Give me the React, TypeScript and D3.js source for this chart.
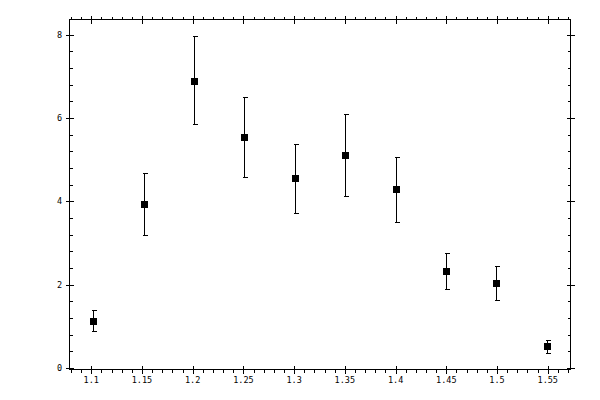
import React from 'react';
import * as d3 from 'd3';

// values
const xValues = [1.1016, 1.1518, 1.2011, 1.2504, 1.3007, 1.3499, 1.4002, 1.4493, 1.4987, 1.549];
const yValues = [1.134, 3.933, 6.9, 5.543, 4.555, 5.105, 4.292, 2.33, 2.043, 0.536];
const errHigh = [1.397, 4.675, 7.976, 6.517, 5.368, 6.086, 5.072, 2.751, 2.45, 0.679];
const errLow = [0.895, 3.199, 5.847, 4.586, 3.718, 4.124, 3.502, 1.9, 1.636, 0.368];

const xMajor = [1.1, 1.15, 1.2, 1.25, 1.3, 1.35, 1.4, 1.45, 1.5, 1.55];
const xLabels = ['1.1', '1.15', '1.2', '1.25', '1.3', '1.35', '1.4', '1.45', '1.5', '1.55'];
const yMajor = [0, 2, 4, 6, 8];
const yLabels = ['0', '2', '4', '6', '8'];

const W = 600;
const H = 400;
const left = 69.5, right = 570.5, top = 19.5, bottom = 369.5;

const App: React.FC = () => {
  const x = d3.scaleLinear().domain([1.0786, 1.5724]).range([left, right]);
  const y = d3.scaleLinear().domain([-0.036, 8.366]).range([bottom, top]);
  const px = (v: number) => Math.round(x(v)) + 0.5;
  const py = (v: number) => Math.round(y(v)) + 0.5;

  const xMinor = d3.range(108, 158).map(d => d / 100).filter(v => x(v) > left && x(v) < right);
  const yMinor = d3.range(0, 21).map(d => d * 0.4);

  const font = '"DejaVu Sans Mono", monospace';

  return (
    <svg width={W} height={H} style={{ position: 'absolute', left: 0, top: 0, background: '#fff' }}>
      <g stroke="#000" strokeWidth={1} shapeRendering="crispEdges" fill="none">
        <rect x={left} y={top} width={right - left} height={bottom - top} />
        {xMinor.map((v, i) => (
          <g key={'xm' + i}>
            <line x1={px(v)} x2={px(v)} y1={top} y2={top - 3} />
            <line x1={px(v)} x2={px(v)} y1={bottom} y2={bottom + 3} />
          </g>
        ))}
        {xMajor.map((v, i) => (
          <g key={'xM' + i}>
            <line x1={px(v)} x2={px(v)} y1={top - 4} y2={top + 4} />
            <line x1={px(v)} x2={px(v)} y1={bottom - 4} y2={bottom + 4} />
          </g>
        ))}
        {yMinor.map((v, i) => (
          <g key={'ym' + i}>
            <line x1={left} x2={left + 3} y1={py(v)} y2={py(v)} />
            <line x1={right} x2={right - 3} y1={py(v)} y2={py(v)} />
          </g>
        ))}
        {yMajor.map((v, i) => (
          <g key={'yM' + i}>
            <line x1={left - 4} x2={left + 4} y1={py(v)} y2={py(v)} />
            <line x1={right - 4} x2={right + 4} y1={py(v)} y2={py(v)} />
          </g>
        ))}
        {xValues.map((v, i) => (
          <g key={'e' + i}>
            <line x1={px(v)} x2={px(v)} y1={py(errLow[i])} y2={py(errHigh[i])} />
            <line x1={px(v) - 2} x2={px(v) + 3} y1={py(errLow[i])} y2={py(errLow[i])} />
            <line x1={px(v) - 2} x2={px(v) + 3} y1={py(errHigh[i])} y2={py(errHigh[i])} />
          </g>
        ))}
      </g>
      <g fill="#000" shapeRendering="crispEdges">
        {xValues.map((v, i) => (
          <rect key={'p' + i} x={Math.round(x(v)) - 3} y={Math.round(y(yValues[i])) - 3} width={7} height={7} />
        ))}
      </g>
      <g fontFamily={font} fontSize="8.5px" fill="#000">
        {xMajor.map((v, i) => (
          <text key={'xl' + i} x={x(v)} y={383} textAnchor="middle">{xLabels[i]}</text>
        ))}
        {yMajor.map((v, i) => (
          <text key={'yl' + i} x={62} y={y(v) + 3} textAnchor="end">{yLabels[i]}</text>
        ))}
      </g>
    </svg>
  );
};

export default App;
